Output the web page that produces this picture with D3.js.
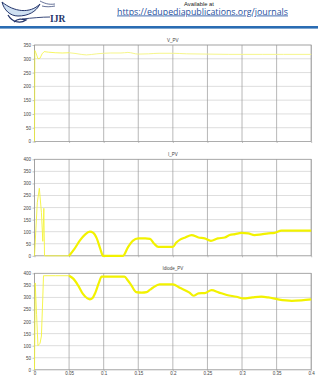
<!DOCTYPE html>
<html>
<head>
<meta charset="utf-8">
<script src="https://cdn.jsdelivr.net/npm/d3@7"></script>
<style>
  body { margin: 0; background: #fff; }
  svg { display: block; }
  .tick text { font-family: 'Liberation Sans', Arial, sans-serif; font-size: 4.5px; fill: #444; }
</style>
</head>
<body>
<div id="chart"></div>
<script>
const WIDTH = 318
const HEIGHT = 378

// x axis (time, s)
const xTicks = [0, 0.05, 0.1, 0.15, 0.2, 0.25, 0.3, 0.35, 0.4]
const xTickLabels = ['0', '0.05', '0.1', '0.15', '0.2', '0.25', '0.3', '0.35', '0.4']

// V_PV
const vpvTime = [0, 0.0005, 0.002, 0.005, 0.008, 0.011, 0.014, 0.02, 0.03, 0.04, 0.05, 0.06, 0.075, 0.09, 0.1, 0.11, 0.125, 0.135, 0.15, 0.165, 0.18, 0.2, 0.22, 0.25, 0.28, 0.3, 0.33, 0.36, 0.4]
const vpvValue = [0, 330, 322, 300, 302, 318, 326, 324, 322, 321, 322, 319, 314, 318, 320, 321, 321, 323, 317, 318, 320, 320, 318, 317, 316, 316, 316, 316, 316]
const vpvTicks = [0, 50, 100, 150, 200, 250, 300, 350]

// I_PV
const ipvTime = [0, 0.004, 0.007, 0.01, 0.012, 0.0135, 0.0145, 0.03, 0.05, 0.058, 0.066, 0.073, 0.08, 0.085, 0.09, 0.095, 0.099, 0.11, 0.128, 0.135, 0.142, 0.15, 0.16, 0.167, 0.173, 0.179, 0.19, 0.2, 0.205, 0.211, 0.218, 0.227, 0.237, 0.246, 0.255, 0.265, 0.275, 0.282, 0.29, 0.299, 0.309, 0.318, 0.328, 0.338, 0.347, 0.357, 0.37, 0.381, 0.4]
const ipvValue = [0, 220, 280, 180, 60, 197, 0, 0, 0, 30, 65, 88, 100, 95, 72, 30, 0, 0, 0, 35, 62, 72, 72, 70, 50, 37, 37, 37, 55, 68, 76, 86, 76, 72, 62, 72, 76, 86, 90, 95, 93, 86, 89, 93, 95, 104, 104, 104, 104]
const ipvTicks = [0, 50, 100, 150, 200, 250, 300, 350, 400]

// Idiode_PV
const idTime = [0, 0.001, 0.003, 0.005, 0.008, 0.01, 0.012, 0.013, 0.015, 0.03, 0.05, 0.056, 0.063, 0.07, 0.0765, 0.08, 0.084, 0.088, 0.093, 0.097, 0.11, 0.13, 0.135, 0.14, 0.147, 0.155, 0.162, 0.167, 0.171, 0.181, 0.2, 0.21, 0.2235, 0.23, 0.237, 0.246, 0.256, 0.266, 0.278, 0.292, 0.302, 0.315, 0.328, 0.338, 0.352, 0.372, 0.386, 0.4]
const idValue = [0, 360, 230, 100, 110, 140, 300, 390, 390, 390, 390, 378, 350, 315, 296, 292, 298, 320, 360, 386, 386, 386, 370, 350, 322, 320, 322, 332, 340, 354, 354, 340, 321, 307, 317, 318, 330, 321, 310, 303, 296, 300, 303, 300, 292, 286, 288, 292]
const idTicks = [0, 50, 100, 150, 200, 250, 300, 350, 400]

const panels = [
  { title: 'V_PV', time: vpvTime, value: vpvValue, ticks: vpvTicks, top: 45 },
  { title: 'I_PV', time: ipvTime, value: ipvValue, ticks: ipvTicks, top: 159.3 },
  { title: 'Idiode_PV', time: idTime, value: idValue, ticks: idTicks, top: 273.3 }
]

const LEFT = 34.5
const RIGHT = 311.2
const PANEL_H = 96.5

const svg = d3.select('#chart')
  .append('svg')
  .attr('width', WIDTH)
  .attr('height', HEIGHT)

drawHeader(svg)

const x = d3.scaleLinear().domain([0, 0.4]).range([LEFT, RIGHT])

panels.forEach((p, i) => {
  const y = d3.scaleLinear()
    .domain([0, d3.max(p.ticks)])
    .range([p.top + PANEL_H, p.top])
  const g = svg.append('g')

  // grid
  g.selectAll('.hgrid')
    .data(p.ticks)
    .enter()
    .append('line')
    .attr('x1', LEFT).attr('x2', RIGHT)
    .attr('y1', d => y(d)).attr('y2', d => y(d))
    .attr('stroke', '#cfcfcf')
    .attr('stroke-width', 0.7)
  g.selectAll('.vgrid')
    .data(xTicks)
    .enter()
    .append('line')
    .attr('x1', d => x(d)).attr('x2', d => x(d))
    .attr('y1', y.range()[0]).attr('y2', y.range()[1])
    .attr('stroke', '#9a9a9a')
    .attr('stroke-width', 0.7)
  g.append('rect')
    .attr('x', LEFT).attr('y', p.top)
    .attr('width', RIGHT - LEFT).attr('height', PANEL_H)
    .attr('fill', 'none')
    .attr('stroke', '#999')
    .attr('stroke-width', 0.7)

  // y axis
  const yAxis = g.append('g')
    .attr('transform', `translate(${LEFT},0)`)
    .call(d3.axisLeft(y).tickValues(p.ticks).tickSize(2).tickPadding(1.5))
  yAxis.select('.domain').remove()
  yAxis.selectAll('.tick line').attr('stroke', '#999').attr('stroke-width', 0.6)

  // x axis, labels only on the last panel
  const last = i === panels.length - 1
  const xAxis = g.append('g')
    .attr('transform', `translate(0,${p.top + PANEL_H})`)
    .call(d3.axisBottom(x).tickValues(xTicks)
      .tickFormat((d, k) => last ? xTickLabels[k] : '')
      .tickSize(1.5).tickPadding(1))
  xAxis.select('.domain').remove()
  xAxis.selectAll('.tick line').attr('stroke', '#999').attr('stroke-width', 0.6)

  // title
  g.append('text')
    .attr('x', (LEFT + RIGHT) / 2)
    .attr('y', p.top - 3)
    .attr('text-anchor', 'middle')
    .attr('font-family', 'Liberation Sans, Arial, sans-serif')
    .attr('font-size', 4.5)
    .attr('fill', '#444')
    .text(p.title)

  // series: thin start-up part, heavier ripple part after 0.05 s
  const pts = p.time.map((t, k) => ({ t, v: p.value[k] }))
  const line = d3.line().x(d => x(d.t)).y(d => y(d.v)).curve(d3.curveMonotoneX)
  const early = pts.filter(d => d.t <= 0.05)
  const late = pts.filter(d => d.t >= 0.05)
  g.append('path')
    .attr('d', d3.line().x(d => x(d.t)).y(d => y(d.v))(early))
    .attr('fill', 'none')
    .attr('stroke', '#f4f43a')
    .attr('stroke-width', i === 0 ? 0.8 : 0.9)
  g.append('path')
    .attr('d', line(late))
    .attr('fill', 'none')
    .attr('stroke', i === 0 ? '#f6f68a' : '#f2f200')
    .attr('stroke-width', i === 0 ? 1 : 2.2)
    .attr('stroke-linejoin', 'round')
})

function drawHeader(svg) {
  const h = svg.append('g')
  // journal logo swirl
  h.append('path')
    .attr('d', 'M2,2 C14,12 30,14 40,4 C36,12 28,16 18,16 C10,16 4,10 2,2 Z')
    .attr('fill', '#cfe0f2')
    .attr('stroke', '#24356b')
    .attr('stroke-width', 1)
  h.append('path')
    .attr('d', 'M8,15 C12,22 20,24 26,20 C22,19 18,18 14,22')
    .attr('fill', 'none')
    .attr('stroke', '#24356b')
    .attr('stroke-width', 1.3)
  h.append('path')
    .attr('d', 'M22,19 C32,18 42,17 50,17')
    .attr('fill', 'none')
    .attr('stroke', '#24356b')
    .attr('stroke-width', 0.9)
  h.append('path')
    .attr('d', 'M40,1 C44,3 48,5 55,4 M42,6 C46,7 50,7 55,6')
    .attr('fill', 'none')
    .attr('stroke', '#24356b')
    .attr('stroke-width', 0.7)
  h.append('text')
    .attr('x', 50).attr('y', 21.5)
    .attr('font-family', 'Liberation Serif, serif')
    .attr('font-weight', 'bold')
    .attr('font-size', 9.5)
    .attr('fill', '#24356b')
    .text('IJR')

  h.append('text')
    .attr('x', 199).attr('y', 5.8)
    .attr('text-anchor', 'middle')
    .attr('font-family', 'Liberation Sans, Arial, sans-serif')
    .attr('font-size', 5.8)
    .attr('fill', '#222')
    .text('Available at')
  h.append('text')
    .attr('x', 117).attr('y', 14.5)
    .attr('font-family', 'Open Sans, sans-serif')
    .attr('font-size', 8.3)
    .attr('fill', '#1f4fa0')
    .attr('text-decoration', 'underline')
    .attr('textLength', 171)
    .attr('lengthAdjust', 'spacingAndGlyphs')
    .text('https://edupediapublications.org/journals')

  h.append('rect')
    .attr('x', 0).attr('y', 26)
    .attr('width', WIDTH).attr('height', 2.6)
    .attr('fill', '#2a6cb3')
}
</script>
</body>
</html>
